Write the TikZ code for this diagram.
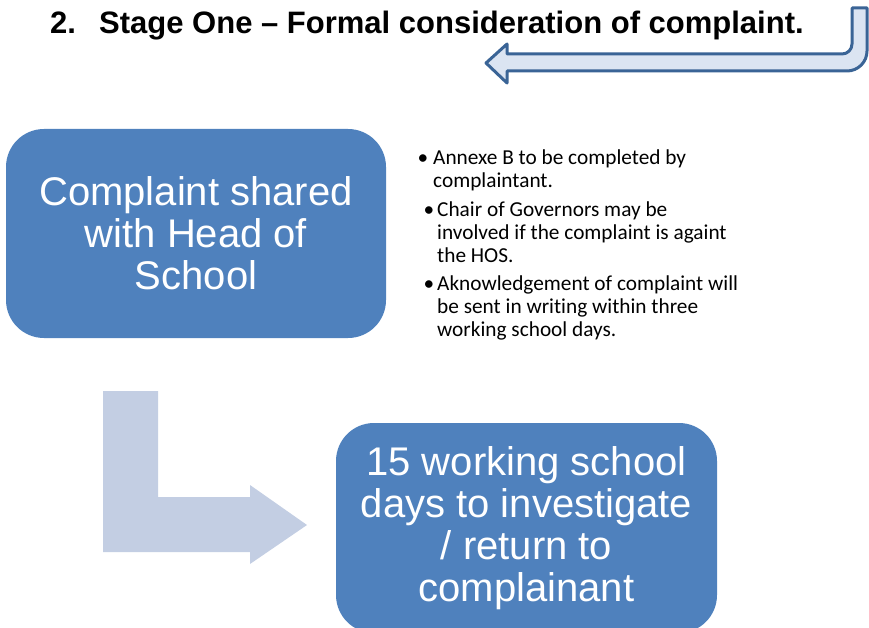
\documentclass[tikz,border=0pt]{standalone}
\usepackage{fontspec}
\setmainfont{Liberation Sans}
\newfontfamily\bulletfont[Ligatures=NoCommon]{Carlito}
\definecolor{boxblue}{HTML}{4F81BD}
\definecolor{larrow}{HTML}{C3CEE3}
\definecolor{uarrowfill}{HTML}{DBE4F2}
\definecolor{uarrowline}{HTML}{3A6496}
\tikzset{
  stagebox/.style={draw=none, fill=boxblue, rounded corners=38pt, text=white,
    align=center, inner sep=0pt, font=\fontsize{40}{42}\selectfont},
  bullettext/.style={anchor=north west, inner sep=0pt, align=left,
    font=\bulletfont\fontsize{21.3}{22.7}\selectfont},
  titletext/.style={anchor=base west, inner sep=0pt,
    font=\bfseries\fontsize{31}{36}\selectfont}
}
\begin{document}
\begin{tikzpicture}[x=1pt,y=1pt]
\clip (0,0) rectangle (869,-628);
% title
\node[titletext] (num) at (50,-34) {2.};
\node[titletext] (title) at (99,-34) {Stage One -- Formal consideration of complaint.};
% top U-turn arrow
\draw[uarrowline, fill=uarrowfill, line width=3pt, line join=round]
  (852,-8) -- (867,-8) -- (867,-51) arc[start angle=0, end angle=-90, radius=20]
  -- (507,-71) -- (507,-83) -- (486,-63) -- (507,-44) -- (507,-54)
  -- (842,-54) arc[start angle=-90, end angle=0, radius=10] -- cycle;
% boxes
\node[stagebox, minimum width=380pt, minimum height=209pt] (b1) at (196,-233.5)
  {Complaint shared\\with Head of\\School};
\node[stagebox, minimum width=381pt, minimum height=210pt] (b2) at (526.5,-528)
  {15 working school\\days to investigate\\/ return to\\complainant};
% L arrow
\fill[larrow] (103,-391) -- (158,-391) -- (158,-497) -- (250,-497) -- (250,-485)
  -- (307,-525) -- (250,-564) -- (250,-552) -- (103,-552) -- cycle;
% bullets
\node[bullettext] (p1) at (433,-150)
  {\llap{\textbullet\hspace{5pt}}Annexe B to be completed by\\complaintant.};
\node[bullettext] (p2) at (437,-202)
  {\llap{\textbullet\hspace{3pt}}Chair of Governors may be\\involved if the complaint is againt\\the HOS.};
\node[bullettext] (p3) at (437,-276)
  {\llap{\textbullet\hspace{3pt}}Aknowledgement of complaint will\\be sent in writing within three\\working school days.};
\end{tikzpicture}
\end{document}
